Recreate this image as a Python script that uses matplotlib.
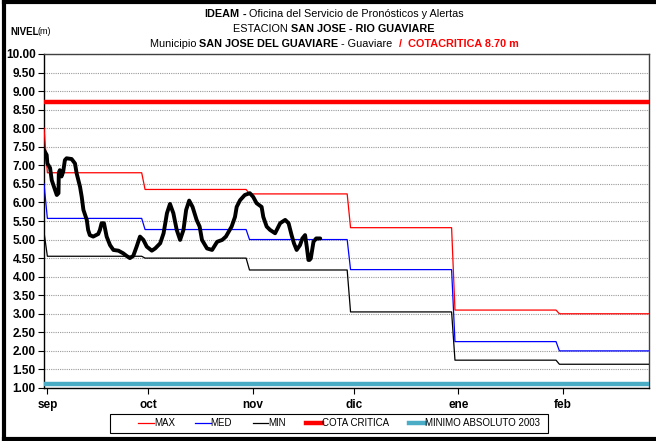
import numpy as np
import matplotlib
matplotlib.use("Agg")
import matplotlib.pyplot as plt
from matplotlib.lines import Line2D
from matplotlib.patches import Rectangle

plt.rcParams['font.family'] = ['Liberation Sans Narrow', 'Liberation Sans', 'DejaVu Sans']

# ---- data -------------------------------------------------------------
month_labels = ['sep', 'oct', 'nov', 'dic', 'ene', 'feb']
month_days = [30, 31, 30, 31, 31, 28]

# monthly reference levels (m); first value of each series is the opening point
max_first, med_first, min_first = 8.0, 6.5, 5.2
max_month = [6.80, 6.35, 6.23, 5.32, 3.10, 3.00]
med_month = [5.57, 5.27, 5.00, 4.19, 2.25, 2.00]
min_month = [4.55, 4.50, 4.18, 3.05, 1.75, 1.64]

cota_critica = 8.70
minimo_absoluto = 1.10

# observed level: time in days from the start of the axis (31 Aug), level in m
obs_day = [0.0, 0.8, 1.0, 1.8, 2.3, 3.3, 3.8, 4.3, 4.4, 4.7, 5.2, 5.7, 6.2,
           6.7, 8.2, 9.2, 9.7, 10.7, 11.2, 11.7, 12.7, 13.1, 13.6, 14.6, 16.1,
           16.6, 17.1, 17.8, 18.6, 19.6, 20.6, 22.1, 23.5, 24.5, 25.5, 26.5,
           27.5, 28.5, 29.5, 30.5, 32.0, 33.0, 34.5, 35.5, 36.5, 37.4, 38.4,
           39.4, 40.4, 41.4, 42.2, 43.1, 44.1, 45.3, 46.2, 46.9, 48.4, 49.9,
           51.4, 52.9, 54.0, 55.7, 56.7, 57.2, 58.2, 59.6, 61.1, 62.1, 63.1,
           64.6, 65.1, 66.1, 67.1, 68.6, 70.1, 71.6, 72.6, 73.5, 74.2, 75.0,
           76.0, 76.7, 77.5, 78.0, 78.5, 78.8, 79.2, 80.0, 80.8, 81.0, 82.0]
obs_lvl = [7.41, 7.28, 7.05, 6.93, 6.60, 6.33, 6.20, 6.25, 6.80, 6.87, 6.70,
           6.83, 7.14, 7.19, 7.17, 7.05, 6.78, 6.42, 6.15, 5.80, 5.53, 5.26,
           5.12, 5.08, 5.15, 5.26, 5.44, 5.44, 5.08, 4.85, 4.72, 4.70, 4.63,
           4.56, 4.50, 4.56, 4.81, 5.08, 4.99, 4.81, 4.70, 4.76, 4.90, 5.17,
           5.71, 5.96, 5.71, 5.26, 4.99, 5.26, 5.80, 6.05, 5.88, 5.53, 5.35,
           4.99, 4.76, 4.72, 4.94, 4.99, 5.08, 5.35, 5.61, 5.88, 6.06, 6.20,
           6.25, 6.15, 5.98, 5.88, 5.61, 5.35, 5.26, 5.17, 5.44, 5.53, 5.44,
           5.12, 4.90, 4.72, 4.85, 5.03, 5.12, 4.81, 4.45, 4.45, 4.49, 4.94,
           5.03, 5.03, 5.03]

# ---- series built from the monthly tables -----------------------------
def daily(first, monthly):
    vals = np.repeat(monthly, month_days).astype(float)
    vals = np.append(vals, monthly[-1])
    vals[0] = first
    return vals

max_s = daily(max_first, max_month)
med_s = daily(med_first, med_month)
min_s = daily(min_first, min_month)
days = np.arange(len(max_s))
x_end = 179.6
# day 0 is 31 Aug, so the first of each month sits one day later
month_ticks = np.concatenate([[0], np.cumsum(month_days)[:-1]]) + 1

# ---- figure -----------------------------------------------------------
fig = plt.figure(figsize=(6.56, 4.41), dpi=100)
W, H = 656, 441
ax = fig.add_axes([44 / W, 1 - 388 / H, (649 - 44) / W, (388 - 54) / H])

ax.plot(days, max_s, color='#ff0000', lw=0.9, label='MAX', zorder=3)
ax.plot(days, med_s, color='#0000ff', lw=0.9, label='MED', zorder=3)
ax.plot(days, min_s, color='#000000', lw=0.9, label='MIN', zorder=3)
ax.axhline(cota_critica, color='#ff0000', lw=3.2, label='COTA CRITICA', zorder=4)
ax.axhline(minimo_absoluto, color='#4bacc6', lw=3.2,
           label='MINIMO ABSOLUTO 2003', zorder=4)
ax.plot(obs_day, obs_lvl, color='black', lw=2.8, solid_joinstyle='round',
        solid_capstyle='round', zorder=5)

ax.set_xlim(0, x_end)
ax.set_ylim(1.0, 10.0)
yt = np.arange(1.0, 10.01, 0.5)
ax.set_yticks(yt)
ax.set_yticklabels([f'{v:.2f}' for v in yt], fontweight='bold', fontsize=8.5)
ax.set_xticks(month_ticks)
ax.set_xticklabels(month_labels, fontweight='bold', fontsize=8.5)
ax.tick_params(axis='both', direction='out', length=4, width=0.8, color='black')
ax.tick_params(axis='x', pad=4)
ax.tick_params(axis='y', pad=2)

ax.yaxis.grid(True, color='#9a9a9a', lw=0.8, linestyle=(0, (1, 1)))
ax.set_axisbelow(True)
for side in ('left', 'bottom'):
    ax.spines[side].set_color('black')
    ax.spines[side].set_linewidth(1.0)
for side in ('top', 'right'):
    ax.spines[side].set_color('#404040')
    ax.spines[side].set_linewidth(1.0)

# legend row inside a plain rectangular box
fig.add_artist(Rectangle((110 / W, 1 - 433 / H), 438 / W, 19 / H,
                         transform=fig.transFigure, facecolor='white',
                         edgecolor='black', lw=0.8))
leg = fig.legend(loc='center', ncol=5, bbox_to_anchor=(339 / W, 1 - 423.5 / H),
                 fontsize=7, frameon=False, handlelength=1.6,
                 handletextpad=0.0, columnspacing=2.1, borderpad=0.0)

# ---- title lines with mixed weights -------------------------------------
def rich_line(y_px, parts, size, cx_px=334):
    renderer = fig.canvas.get_renderer()
    items = []
    total = 0.0
    for s, weight, color in parts:
        t = fig.text(0, 1 - y_px / H, s, fontsize=size, fontweight=weight,
                     color=color, ha='left', va='center')
        w = t.get_window_extent(renderer).width
        items.append((t, w))
        total += w
    x = cx_px - total / 2
    for t, w in items:
        t.set_x(x / W)
        x += w

title_size = 7.8
rich_line(14, [('IDEAM', 'bold', 'black'), (' - ', 'bold', 'black'),
               ('Oficina del Servicio de Pronósticos y Alertas', 'normal', 'black')],
          title_size)
rich_line(29, [('ESTACION ', 'normal', 'black'),
               ('SAN JOSE - RIO GUAVIARE', 'bold', 'black')], title_size)
rich_line(44, [('Municipio ', 'normal', 'black'),
               ('SAN JOSE DEL GUAVIARE', 'bold', 'black'),
               (' - Guaviare  ', 'normal', 'black'),
               ('/  COTACRITICA 8.70 m', 'bold', '#ff0000')], title_size)

fig.text(10 / W, 1 - 32 / H, 'NIVEL', fontsize=7, fontweight='bold', va='center')
fig.text(38 / W, 1 - 32 / H, '(m)', fontsize=6.5, va='center')

# outer frame
for xs, ys in [([0.006, 0.006], [0.005, 0.995]),
               ([0.006, 1.0], [0.995, 0.995]),
               ([0.006, 1.0], [0.005, 0.005])]:
    fig.add_artist(Line2D(xs, ys, transform=fig.transFigure, color='black', lw=3))

fig.savefig('out.png', dpi=100)
